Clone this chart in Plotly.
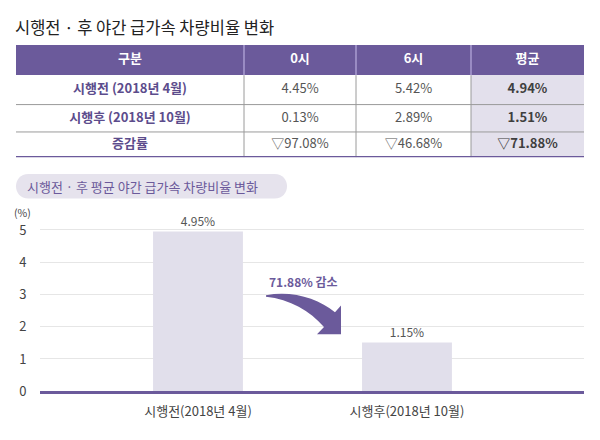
import plotly.graph_objects as go

W, H = 600, 440
FONT = "Noto Sans CJK KR"
PURPLE = "#6b5a9b"
LAV = "#e3e0ec"

# ---- data ----
title_text = "시행전 · 후 야간 급가속 차량비율 변화"
table_header = ["구분", "0시", "6시", "평균"]
table_rows = ["시행전 (2018년 4월)", "시행후 (2018년 10월)", "증감률"]
col_0h = ["4.45%", "0.13%", "▽97.08%"]
col_6h = ["5.42%", "2.89%", "▽46.68%"]
col_avg = ["4.94%", "1.51%", "▽71.88%"]

chart_title = "시행전 · 후 평균 야간 급가속 차량비율 변화"
bar_categories = ["시행전(2018년 4월)", "시행후(2018년 10월)"]
bar_values = [4.95, 1.51]
bar_text = ["4.95%", "1.15%"]
change_label = "71.88% 감소"
y_unit = "(%)"

# ---- table layout (pixel sizes of columns / rows) ----
col_widths = [228, 112, 115, 113]
row_heights = [31, 30, 28, 26]  # header, row1..row3
TBL_X0, TBL_Y0 = 16, 45


def px(x):
    return x / W


def py(y):
    return 1 - y / H


def edges(sizes):
    out = [0]
    for s in sizes:
        out.append(out[-1] + s)
    return out


xe = edges(col_widths)
ye = edges(row_heights)
xc = [(xe[i] + xe[i + 1]) / 2 for i in range(len(col_widths))]
yc = [(ye[i] + ye[i + 1]) / 2 for i in range(len(row_heights))]

fig = go.Figure()

# ---- table: cell fills ----
ncol = len(table_header)
z = [[2] * ncol] + [[0] * (ncol - 1) + [1] for _ in table_rows]
fig.add_trace(go.Heatmap(
    x=xe, y=ye, z=z, zmin=0, zmax=2,
    colorscale=[[0, "white"], [0.5, LAV], [1, PURPLE]],
    showscale=False, hoverinfo="skip",
    xaxis="x2", yaxis="y2",
))

# ---- table: cell texts ----
columns = [table_rows, col_0h, col_6h, col_avg]
tx, ty, tt, tc = [], [], [], []
for j, h in enumerate(table_header):
    tx.append(xc[j]); ty.append(yc[0]); tt.append(f"<b>{h}</b>"); tc.append("white")
col_colors = ["#5c4c8c", "#555555", "#555555", "#3f3f3f"]
col_bold = [True, False, False, True]
for j, col in enumerate(columns):
    for i, v in enumerate(col):
        tx.append(xc[j]); ty.append(yc[i + 1])
        tt.append(f"<b>{v}</b>" if col_bold[j] else v)
        tc.append(col_colors[j])
fig.add_trace(go.Scatter(
    x=tx, y=ty, text=tt, mode="text",
    textposition="middle center",
    textfont=dict(family=FONT, size=13, color=tc),
    hoverinfo="skip", xaxis="x2", yaxis="y2", cliponaxis=False,
))

# ---- bar chart ----
fig.add_trace(go.Bar(
    x=bar_categories,
    y=bar_values,
    width=0.43,
    marker=dict(color="#e1dfeb", line=dict(width=0)),
    text=bar_text,
    textposition="outside",
    textfont=dict(family=FONT, size=12, color="#555555"),
    cliponaxis=False,
    hoverinfo="skip",
))

fig.update_layout(
    width=W, height=H,
    margin=dict(l=0, r=0, t=0, b=0),
    paper_bgcolor="white",
    plot_bgcolor="white",
    showlegend=False,
    font=dict(family=FONT),
    xaxis=dict(
        domain=[px(40), px(584)],
        range=[-0.756, 1.847],
        showgrid=False,
        showline=True, linecolor=PURPLE, linewidth=3,
        ticks="outside", ticklen=6, tickcolor="rgba(0,0,0,0)",
        tickfont=dict(family=FONT, size=13, color="#444444"),
        fixedrange=True,
    ),
    yaxis=dict(
        domain=[py(399.3), py(224.4)],
        range=[0, 5.3],
        dtick=1, tick0=0,
        showgrid=True, gridcolor="#e6e6e6", gridwidth=1,
        zeroline=False,
        ticks="outside", ticklen=10, tickcolor="rgba(0,0,0,0)",
        tickfont=dict(family=FONT, size=13, color="#444444"),
        fixedrange=True,
    ),
    xaxis2=dict(
        domain=[px(TBL_X0), px(TBL_X0 + xe[-1])],
        range=[0, xe[-1]], visible=False, fixedrange=True,
        anchor="y2",
    ),
    yaxis2=dict(
        domain=[py(TBL_Y0 + ye[-1]), py(TBL_Y0)],
        range=[ye[-1], 0], visible=False, fixedrange=True,
        anchor="x2",
    ),
)

shapes = []
# table grid lines (in table axis units)
for j in range(1, ncol):
    shapes.append(dict(type="line", xref="x2", yref="y2",
                       x0=xe[j], x1=xe[j], y0=ye[0], y1=ye[1],
                       line=dict(color="#b9aee0", width=1.2)))
    shapes.append(dict(type="line", xref="x2", yref="y2",
                       x0=xe[j], x1=xe[j], y0=ye[1], y1=ye[-1],
                       line=dict(color="#9a9a9a", width=1)))
for i in range(2, len(ye) - 1):
    shapes.append(dict(type="line", xref="x2", yref="y2",
                       x0=xe[0], x1=xe[-1], y0=ye[i], y1=ye[i],
                       line=dict(color="#9a9a9a", width=1)))
shapes.append(dict(type="line", xref="x2", yref="y2",
                   x0=xe[0], x1=xe[-1], y0=ye[-1], y1=ye[-1],
                   line=dict(color=PURPLE, width=2.5)))

f = lambda p: f"{px(p[0]):.5f},{py(p[1]):.5f}"
# pill background
pts = [(28.5, 177), (274.5, 177), (291.2, 177), (291.2, 202), (274.5, 202),
       (28.5, 202), (11.8, 202), (11.8, 177), (28.5, 177)]
pill = (f"M {f(pts[0])} L {f(pts[1])} C {f(pts[2])} {f(pts[3])} {f(pts[4])} "
        f"L {f(pts[5])} C {f(pts[6])} {f(pts[7])} {f(pts[8])} Z")
shapes.append(dict(type="path", xref="paper", yref="paper", path=pill,
                   fillcolor="#e6e3ed", line=dict(width=0), layer="below"))

# curved arrow
arrow = (f"M {f((266, 301))} C {f((292, 296))} {f((318, 304))} {f((335, 318.5))} "
         f"L {f((341, 311.5))} L {f((341, 341))} L {f((317, 341))} L {f((324, 333.5))} "
         f"C {f((310, 317))} {f((290, 305))} {f((266, 302.5))} Z")
shapes.append(dict(type="path", xref="paper", yref="paper", path=arrow,
                   fillcolor=PURPLE, line=dict(width=0), layer="above"))
fig.update_layout(shapes=shapes)

annotations = [
    dict(text=title_text, x=px(13), y=py(27), xref="paper", yref="paper",
         xanchor="left", yanchor="middle", showarrow=False,
         font=dict(family=FONT, size=16.5, color="#222222")),
    dict(text=chart_title, x=px(25), y=py(190), xref="paper", yref="paper",
         xanchor="left", yanchor="middle", showarrow=False,
         font=dict(family=FONT, size=13, color=PURPLE)),
    dict(text=y_unit, x=px(22.5), y=py(216.5), xref="paper", yref="paper",
         xanchor="center", yanchor="middle", showarrow=False,
         font=dict(family=FONT, size=10.5, color="#444444")),
    dict(text=f"<b>{change_label}</b>", x=px(303), y=py(287), xref="paper",
         yref="paper", xanchor="center", yanchor="middle", showarrow=False,
         font=dict(family=FONT, size=12, color=PURPLE)),
]
fig.update_layout(annotations=annotations)

fig.write_html("out.html", config=dict(displayModeBar=False),
               post_script="document.body.style.margin='0';")
